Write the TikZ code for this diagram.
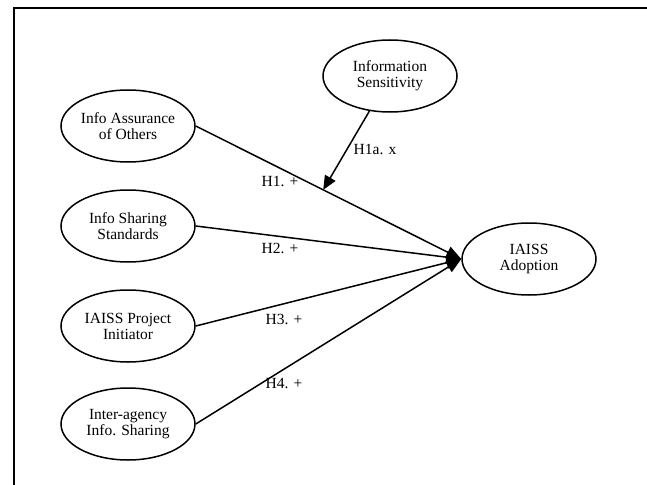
\documentclass[tikz,border=0pt]{standalone}
\usepackage{fontspec}
\setmainfont{Liberation Serif}
\usetikzlibrary{shapes.geometric,arrows.meta}
\begin{document}
\begin{tikzpicture}[x=1pt,y=-1pt,
  construct/.style={ellipse,draw,line width=1.5pt,minimum width=134pt,minimum height=72pt,
    inner sep=0pt,align=center,font=\fontsize{15.5}{16}\selectfont},
  path/.style={line width=1.5pt,-{Triangle[length=15pt,width=12pt]}},
  hyp/.style={font=\fontsize{15.5}{16}\selectfont,inner sep=0pt}]
  \useasboundingbox (0,0) rectangle (647,484);
  \clip (0,0) rectangle (647,484);
  % outer frame
  \draw[line width=1.8pt] (14,495) -- (14,8) -- (660,8);
  % constructs
  \node[construct] (ia)   at (128,126) {Info Assurance\\of Others};
  \node[construct] (std)  at (128,226) {Info Sharing\\Standards};
  \node[construct] (init) at (128,326) {IAISS Project\\Initiator};
  \node[construct] (iag)  at (128,424) {Inter-agency\\Info. Sharing};
  \node[construct] (sens) at (390,76)  {Information\\Sensitivity};
  \node[construct] (ad)   at (529,259) {IAISS\\Adoption};
  % hypothesised paths
  \draw[path] (ia.east)   -- coordinate[pos=0.48] (m1) (ad.west);
  \draw[path] (std.east)  -- (ad.west);
  \draw[path] (init.east) -- (ad.west);
  \draw[path] (iag.east)  -- (ad.west);
  \draw[line width=1.5pt,-{Triangle[length=14pt,width=12pt]}] (sens) -- (m1);
  % path labels
  \node[hyp] (l1)  at (280,181) {H1. +};
  \node[hyp] (l2)  at (280,248) {H2. +};
  \node[hyp] (l3)  at (284,319) {H3. +};
  \node[hyp] (l4)  at (284,384) {H4. +};
  \node[hyp] (l1a) at (375,149) {H1a. x};
\end{tikzpicture}
\end{document}
